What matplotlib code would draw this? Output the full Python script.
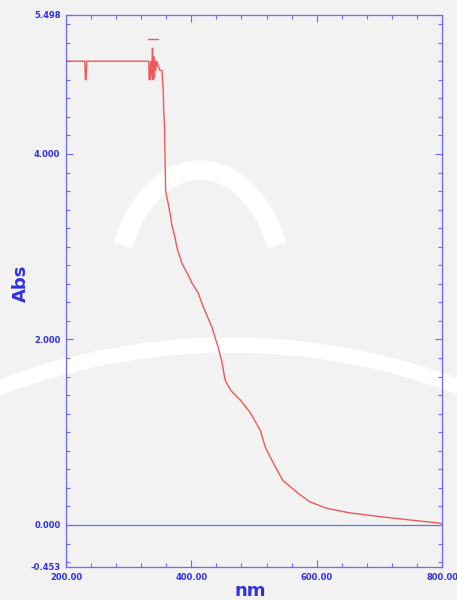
import matplotlib
matplotlib.use("Agg")
import matplotlib.pyplot as plt
from matplotlib.patches import Arc
from matplotlib.ticker import FixedLocator, MultipleLocator

# Absorbance spectrum (nm vs Abs)
wavelength = [200, 230, 231, 232, 233, 234, 330, 332, 333, 334, 335, 336,
              337, 338, 339, 340, 341, 342, 343, 345, 347, 350, 353, 355,
              356, 357, 358, 359, 362, 366, 369, 374, 377, 385, 393, 401,
              411, 419, 433, 443, 449, 454, 463, 473, 478, 494, 510, 518,
              526, 537, 546, 569, 589, 616, 653, 701, 754, 797, 800]
absorbance = [5.00, 5.00, 4.80, 4.80, 5.00, 5.00, 5.00, 5.00, 4.80, 4.95,
              4.80, 5.00, 4.85, 5.14, 4.80, 5.05, 4.82, 5.00, 4.90, 5.00,
              4.95, 4.90, 4.90, 4.70, 4.45, 4.33, 4.00, 3.60, 3.50, 3.36,
              3.23, 3.10, 2.99, 2.82, 2.72, 2.61, 2.50, 2.35, 2.13, 1.91,
              1.75, 1.56, 1.45, 1.38, 1.35, 1.21, 1.02, 0.84, 0.73, 0.59,
              0.48, 0.35, 0.25, 0.18, 0.13, 0.09, 0.05, 0.02, 0.01]

# short over-range trace above the saturated plateau
over_wl = [331, 347]
over_abs = [5.24, 5.24]

x_ticks = [200, 400, 600, 800]
x_labels = ["200.00", "400.00", "600.00", "800.00"]
y_ticks = [-0.453, 0.0, 2.0, 4.0, 5.498]
y_labels = ["-0.453", "0.000", "2.000", "4.000", "5.498"]

BLUE = "#6a6aff"
TEXT = "#2f2fe6"
RED = "#f04848"
BG = "#f2f2f2"

fig = plt.figure(figsize=(4.57, 6.0), dpi=100, facecolor=BG)

# faint white seal behind the plot, in pixel units
bg = fig.add_axes([0, 0, 1, 1], zorder=0)
bg.set_xlim(0, 457)
bg.set_ylim(600, 0)
bg.axis("off")
bg.add_patch(Arc((200, 300), 170, 260, theta1=215, theta2=325,
                 color="white", lw=14))
bg.add_patch(Arc((230, 1000), 1300, 1310, theta1=180, theta2=360,
                 color="white", lw=11))

ax = fig.add_axes([0.1444, 0.055, 0.8228, 0.92], zorder=1)
ax.patch.set_alpha(0)

ax.plot(wavelength, absorbance, color=RED, lw=1.0, alpha=0.9)
ax.plot(over_wl, over_abs, color=RED, lw=1.0, alpha=0.9)
ax.axhline(0.0, color=BLUE, lw=0.9)

ax.set_xlim(x_ticks[0], x_ticks[-1])
ax.set_ylim(y_ticks[0], y_ticks[-1])

ax.xaxis.set_major_locator(FixedLocator(x_ticks))
ax.set_xticklabels(x_labels)
ax.xaxis.set_minor_locator(MultipleLocator(40))
ax.yaxis.set_major_locator(FixedLocator(y_ticks))
ax.set_yticklabels(y_labels)
ax.yaxis.set_minor_locator(MultipleLocator(0.2))

ax.tick_params(which="both", direction="in", top=True, right=True,
               color=BLUE, width=0.8)
ax.tick_params(which="major", length=5, labelsize=6, labelcolor=TEXT, pad=4)
ax.tick_params(which="minor", length=3)
for lab in ax.get_xticklabels() + ax.get_yticklabels():
    lab.set_fontweight("bold")

for sp in ax.spines.values():
    sp.set_color(BLUE)
    sp.set_linewidth(0.9)

ax.set_ylabel("Abs", color=TEXT, fontsize=13, fontweight="bold")
ax.yaxis.set_label_coords(-0.095, 0.514)
ax.set_xlabel("nm", color=TEXT, fontsize=13, fontweight="bold")
ax.xaxis.set_label_coords(0.49, -0.028)

fig.savefig("out.png", dpi=100, facecolor=BG)
